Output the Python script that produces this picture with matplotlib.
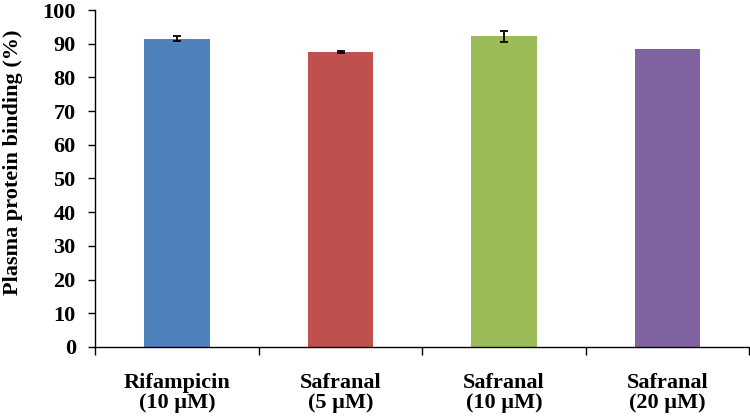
import matplotlib
matplotlib.use("Agg")
import matplotlib.pyplot as plt
import numpy as np

# data
categories = ["Rifampicin\n(10 \u00b5M)", "Safranal\n(5 \u00b5M)", "Safranal\n(10 \u00b5M)", "Safranal\n(20 \u00b5M)"]
binding = [91.5, 87.5, 92.2, 88.3]
errors = [0.75, 0.3, 1.6, 0.0]
colors = ["#4F81BD", "#C0504D", "#9BBB59", "#8064A2"]

plt.rcParams['font.family'] = ['Liberation Serif', 'DejaVu Serif']
plt.rcParams['font.weight'] = 'bold'

fig = plt.figure(figsize=(7.5, 4.18), dpi=100)
ax = fig.add_axes([0.127, 0.17, 0.872, 0.806])

x = np.arange(len(categories))
ax.bar(x, binding, width=0.4, color=colors)
for xi, v, e in zip(x, binding, errors):
    if e > 0:
        ax.errorbar(xi, v, yerr=e, fmt='none', ecolor='black', elinewidth=1.3,
                    capsize=3, capthick=1.3)

ax.set_xlim(-0.5, len(categories) - 0.5)
ax.set_ylim(0, 100)
ax.set_yticks(range(0, 101, 10))
ax.tick_params(axis='y', labelsize=16, length=5, width=1, direction='out', pad=9)

# boundary ticks, labels at centres
ax.set_xticks(np.arange(-0.5, len(categories)), labels=[''] * (len(categories) + 1))
ax.set_xticks(x, labels=categories, minor=True)
ax.tick_params(axis='x', which='major', length=6, width=1, direction='out')
ax.tick_params(axis='x', which='minor', length=0, labelsize=16, pad=19)
for lbl in ax.get_xticklabels(minor=True):
    lbl.set_fontweight('bold')
    lbl.set_linespacing(1.0)
for lbl in ax.get_yticklabels():
    lbl.set_fontweight('bold')

ax.spines['top'].set_visible(False)
ax.spines['right'].set_visible(False)
ax.spines['left'].set_linewidth(1)
ax.spines['bottom'].set_linewidth(1)

fig.text(13 / 750, 1 - 162 / 418, 'Plasma protein binding (%)', rotation=90,
         ha='center', va='center', fontsize=16, fontweight='bold')

fig.savefig('out.png', dpi=100)
